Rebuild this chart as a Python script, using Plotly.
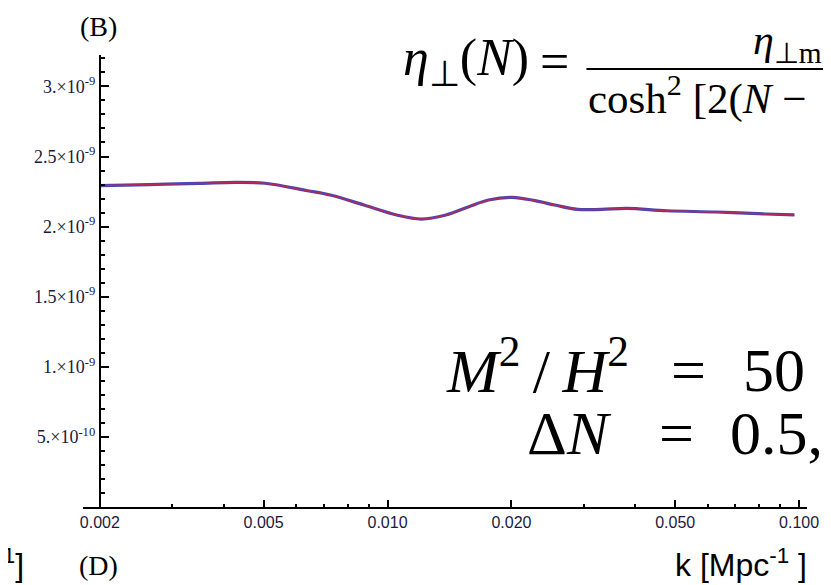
import numpy as np
import plotly.graph_objects as go

# ---- data ----
k_vals = [0.002, 0.002637, 0.003478, 0.004268, 0.005038, 0.006394, 0.007262,
          0.008765, 0.01052, 0.01208, 0.01387, 0.01576, 0.0176, 0.0201,
          0.02282, 0.0255, 0.02896, 0.03308, 0.0382, 0.0477, 0.0628,
          0.0828, 0.0974]
P_full = [2.292e-9, 2.300e-9, 2.308e-9, 2.316e-9, 2.309e-9, 2.256e-9, 2.225e-9,
          2.154e-9, 2.083e-9, 2.054e-9, 2.083e-9, 2.142e-9, 2.190e-9, 2.209e-9,
          2.185e-9, 2.154e-9, 2.123e-9, 2.123e-9, 2.130e-9, 2.113e-9, 2.104e-9,
          2.090e-9, 2.083e-9]
P_eff = list(P_full)

x_tickvals = [0.002, 0.005, 0.010, 0.020, 0.050, 0.100]
x_ticktext = ["0.002", "0.005", "0.010", "0.020", "0.050", "0.100"]
x_minorvals = [0.003, 0.004, 0.006, 0.007, 0.008, 0.009,
               0.03, 0.04, 0.06, 0.07, 0.08, 0.09]
y_tickvals = [5e-10, 1e-9, 1.5e-9, 2e-9, 2.5e-9, 3e-9]
y_ticktext = ["5.×10<sup>-10</sup>", "1.×10<sup>-9</sup>", "1.5×10<sup>-9</sup>",
              "2.×10<sup>-9</sup>", "2.5×10<sup>-9</sup>", "3.×10<sup>-9</sup>"]

# ---- layout geometry (page has an 8px body margin) ----
OFF = 8
W, H = 831 - OFF, 585 - OFF
L, T = 83 - OFF, 55 - OFF
R = W - (815 - OFF)
B = H - (507 - OFF)
PW, PH = W - L - R, H - T - B

def px(x):
    return (x - OFF - L) / PW

def py(y):
    return (H - B - (y - OFF)) / PH

fig = go.Figure()
fig.add_trace(go.Scatter(x=k_vals, y=P_full, mode="lines", line_shape="spline",
                         line=dict(color="#4646b4", width=3.2), showlegend=False))
fig.add_trace(go.Scatter(x=k_vals, y=P_eff, mode="lines", line_shape="spline",
                         line=dict(color="#b4285a", width=1.4), showlegend=False))

xr = [np.log10(0.002) - 17 / 416.1, np.log10(0.1) + 8 / 416.1]

fig.update_layout(
    width=W, height=H,
    margin=dict(l=L, r=R, t=T, b=B),
    paper_bgcolor="white", plot_bgcolor="white",
    xaxis=dict(type="log", range=xr, showgrid=False, zeroline=False,
               showline=True, linecolor="black", linewidth=2,
               tickmode="array", tickvals=x_tickvals, ticktext=x_ticktext,
               ticks="inside", ticklen=7, tickwidth=1.5, tickcolor="black",
               tickfont=dict(family="Liberation Sans", size=16, color="#1a1a40"),
               minor=dict(tickmode="array", tickvals=x_minorvals, ticks="inside",
                          ticklen=3, tickwidth=1.5, tickcolor="black", showgrid=False)),
    yaxis=dict(range=[0, 3.224e-9], showgrid=False, zeroline=False,
               anchor="free", position=px(100),
               showline=True, linecolor="black", linewidth=2,
               tickmode="array", tickvals=y_tickvals, ticktext=y_ticktext,
               ticks="inside", ticklen=8, tickwidth=1.5, tickcolor="black",
               tickfont=dict(family="Liberation Serif", size=18, color="#1a1a40"),
               minor=dict(tickmode="linear", tick0=0, dtick=1e-10, ticks="inside",
                          ticklen=4, tickwidth=1.5, tickcolor="black", showgrid=False)),
)

serif = "Liberation Serif"
TS = "\u2009"
anns = [
    dict(text="(B)", x=99, y=27, size=28, xa="center", fam=serif),
    dict(text="(D)", x=99, y=565, size=28, xa="center", fam=serif),
    dict(text="k [Mpc<sup>-1</sup> ]", x=817, y=563, size=32, xa="right", fam="Liberation Sans"),
    dict(text="k [Mpc<sup>-1</sup>]", x=25, y=563, size=32, xa="right", fam="Liberation Sans"),
    dict(text="<i>η</i><sub>⊥</sub>(<i>N</i>)", x=405, y=62, size=52, xa="left", fam=serif),
    dict(text="=", x=560, y=62, size=52, xa="center", fam=serif),
    dict(text="<i>η</i><sub>⊥m</sub>", x=758, y=43, size=42, xa="left", fam=serif),
    dict(text="cosh<sup>2</sup> [2(<i>N</i> −", x=592, y=96, size=43, xa="left", fam=serif),
    dict(text="<i>M</i><sup>2</sup>" + TS + "/" + TS + "<i>H</i><sup>2</sup>", x=448, y=366, size=62, xa="left", fam=serif),
    dict(text="=", x=695, y=370, size=62, xa="center", fam=serif),
    dict(text="50", x=748, y=370, size=62, xa="left", fam=serif),
    dict(text="Δ<i>N</i>", x=530, y=433, size=62, xa="left", fam=serif),
    dict(text="=", x=683, y=433, size=62, xa="center", fam=serif),
    dict(text="0.5,", x=735, y=433, size=62, xa="left", fam=serif),
]
for a in anns:
    fig.add_annotation(text=a["text"], x=px(a["x"]), y=py(a["y"]), xref="paper", yref="paper",
                       xanchor=a["xa"], yanchor="middle", showarrow=False,
                       font=dict(family=a["fam"], size=a["size"], color="black"))

fig.add_shape(type="line", xref="paper", yref="paper",
              x0=px(592), x1=px(845), y0=py(69), y1=py(69),
              line=dict(color="black", width=2))

fig.write_html("out.html")
